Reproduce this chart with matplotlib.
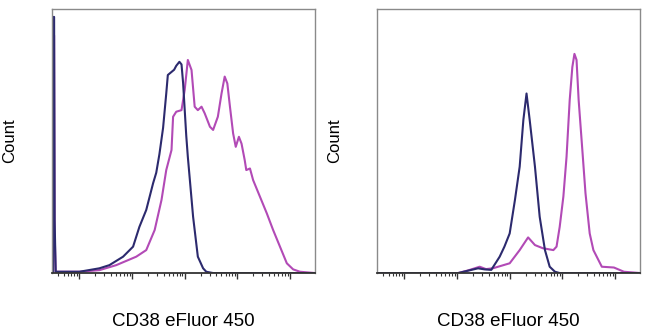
import numpy as np
import matplotlib.pyplot as plt

plt.rcParams['font.family'] = ['Liberation Sans', 'DejaVu Sans']

# x in log decades of CD38 eFluor 450, y as % of axis height (count)
left_blue_x = [0.50, 0.51, 0.52, 0.53, 0.55, 1.00, 1.38, 1.57, 1.83, 2.02, 2.14, 2.27,
               2.40, 2.46, 2.52, 2.59, 2.65, 2.68, 2.74, 2.80, 2.84, 2.90, 2.94,
               2.97, 3.00, 3.03, 3.06, 3.16, 3.25, 3.35, 3.41, 3.54, 5.48]
left_blue_y = [0, 97, 97, 20, 0.5, 0.5, 1.8, 3.0, 6.2, 10.0, 17.5, 23.9,
               34.0, 38.0, 45.0, 55.0, 68.0, 75.0, 76.0, 77.0, 78.5, 80.0, 79.0,
               72.0, 62.0, 52.0, 44.0, 21.3, 6.2, 1.8, 0.5, 0, 0]

left_mag_x = [0.50, 0.51, 0.52, 0.53, 0.55, 1.00, 1.38, 1.70, 2.08, 2.27, 2.43, 2.56,
              2.65, 2.75, 2.78, 2.84, 2.94, 3.00, 3.06, 3.13, 3.19, 3.25, 3.32,
              3.38, 3.48, 3.54, 3.63, 3.70, 3.76, 3.81, 3.86, 3.92, 3.97, 4.03,
              4.08, 4.14, 4.17, 4.24, 4.30, 4.43, 4.56, 4.68, 4.81, 4.94, 5.06,
              5.19, 5.48]
left_mag_y = [0, 90, 90, 15, 0.5, 0.5, 1.1, 3.0, 6.2, 8.7, 16.3, 27.7,
              39.0, 46.6, 59.2, 61.1, 61.7, 69.3, 80.7, 76.9, 63.0, 61.7, 63.0,
              60.5, 55.4, 54.2, 59.2, 68.0, 74.4, 71.8, 63.0, 52.9, 47.8, 51.6,
              49.0, 42.8, 39.0, 39.6, 35.2, 28.9, 22.6, 16.3, 10.0, 3.7, 1.4,
              0.5, 0]

right_blue_x = [0.50, 2.02, 2.21, 2.40, 2.52, 2.65, 2.81, 2.90, 3.00, 3.10, 3.19,
                3.26, 3.32, 3.38, 3.48, 3.57, 3.67, 3.76, 3.86, 3.95, 5.48]
right_blue_y = [0, 0, 0.9, 1.8, 1.4, 1.2, 6.2, 10.0, 15.0, 27.7, 40.3,
                58.0, 68.0, 58.0, 40.3, 21.3, 8.7, 2.4, 0.5, 0, 0]

right_mag_x = [0.50, 2.02, 2.21, 2.43, 2.55, 2.68, 3.00, 3.19, 3.35, 3.48, 3.63,
               3.83, 3.89, 3.95, 4.02, 4.08, 4.14, 4.19, 4.23, 4.27, 4.31,
               4.38, 4.44, 4.52, 4.59, 4.75, 4.98, 5.17, 5.48]
right_mag_y = [0, 0, 1.0, 2.4, 1.5, 1.8, 3.7, 8.7, 13.5, 10.6, 9.4,
               8.7, 10.0, 17.5, 29.0, 44.0, 65.5, 78.0, 83.0, 80.7, 65.5,
               46.6, 30.2, 15.0, 8.7, 2.4, 2.1, 0.5, 0]

blue = '#2c2a6e'
magenta = '#b24ab6'
major_ticks = [1, 2, 3, 4, 5]
minor_ticks = [d + np.log10(m) for d in range(0, 5) for m in range(2, 10)]

fig = plt.figure(figsize=(6.5, 3.33), dpi=100)
panels = [
    (0.080, left_blue_x, left_blue_y, left_mag_x, left_mag_y),
    (0.580, right_blue_x, right_blue_y, right_mag_x, right_mag_y),
]
for x0, bx, by, mx, my in panels:
    ax = fig.add_axes([x0, 0.180, 0.405, 0.793])
    ax.plot(mx, my, color=magenta, lw=1.5)
    ax.plot(bx, by, color=blue, lw=1.5)
    ax.set_xlim(0.48, 5.48)
    ax.set_ylim(0, 100)
    ax.set_xticks(major_ticks)
    ax.set_xticks([t for t in minor_ticks if 0.48 < t < 5.48], minor=True)
    ax.set_xticklabels([])
    ax.set_yticks([])
    ax.tick_params(axis='x', which='major', direction='out', length=4,
                   width=1.0, color='#333333')
    ax.tick_params(axis='x', which='minor', direction='out', length=2.5,
                   width=0.8, color='#333333')
    for side in ['top', 'right', 'left']:
        ax.spines[side].set_color('#8a8a8a')
        ax.spines[side].set_linewidth(1.0)
    ax.spines['bottom'].set_color('#333333')
    ax.spines['bottom'].set_linewidth(1.3)
    ax.set_xlabel('CD38 eFluor 450', fontsize=13.5)
    ax.xaxis.set_label_coords(0.5, -0.150)
    ax.set_ylabel('Count', fontsize=12)
    ax.yaxis.set_label_coords(-0.133, 0.5)

fig.savefig('out.png', dpi=100)
